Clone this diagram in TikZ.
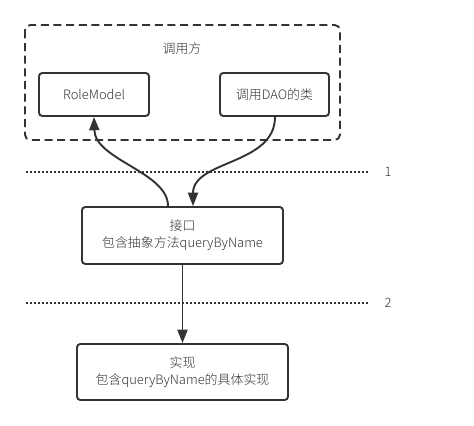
\documentclass[tikz,border=0pt]{standalone}
\usepackage{fontspec}
\setmainfont{Noto Sans CJK SC}[UprightFont={* Light}]
\usetikzlibrary{arrows.meta}
\definecolor{ink}{HTML}{333333}
\tikzset{
  box/.style={draw=ink, line width=1.9pt*0.75, rounded corners=2.5pt, inner sep=0pt, font=\fontsize{9.7}{12.8}\selectfont, text=ink, align=center},
  conn/.style={draw=ink, line width=1.9pt*0.75, -{Triangle[length=10pt,width=7.5pt]}},
  sep/.style={draw=ink, line width=1.6pt*0.75, dash pattern=on 1.5pt off 1.5pt},
  lbl/.style={font=\fontsize{9.7}{11}\selectfont, text=ink, inner sep=0pt}
}
\begin{document}
\begin{tikzpicture}[x=0.75pt,y=-0.75pt]
\useasboundingbox (0,0) rectangle (474,425);
\fill[white] (0,0) rectangle (474,425);
% container
\draw[ink, line width=1.9pt*0.75, dash pattern=on 6pt off 3.5pt, rounded corners=4pt] (25,25) rectangle (340,140);
\node[lbl] (caller) at (182,49) {调用方};
\node[box, minimum width=110*0.75pt, minimum height=43*0.75pt] (rm) at (94,94.5) {RoleModel};
\node[box, minimum width=109*0.75pt, minimum height=43*0.75pt] (dao) at (274.5,94.5) {调用DAO的类};
% separators
\coordinate (s1a) at (26,172); \coordinate (s1b) at (368,172);
\coordinate (s2a) at (26,303); \coordinate (s2b) at (368,303);
\draw[sep] (s1a) -- (s1b);
\draw[sep] (s2a) -- (s2b);
\node[lbl] (n1) at (388,172) {1};
\node[lbl] (n2) at (388,303) {2};
% interface
\node[box, minimum width=201*0.75pt, minimum height=57*0.75pt] (iface) at (182.5,235.5) {接口\\包含抽象方法queryByName};
% impl
\node[box, minimum width=211*0.75pt, minimum height=56*0.75pt] (impl) at (182.5,372) {实现\\包含queryByName的具体实现};
% connectors
\draw[conn] (iface.north -| 168,0) .. controls (168,172) and (95,160) .. (rm.south);
\draw[conn] (dao.south -| 275,0) .. controls (275,165) and (193,160) .. (iface.north -| 193,0);
\draw[conn] (iface.south) -- (impl.north);
\end{tikzpicture}
\end{document}
